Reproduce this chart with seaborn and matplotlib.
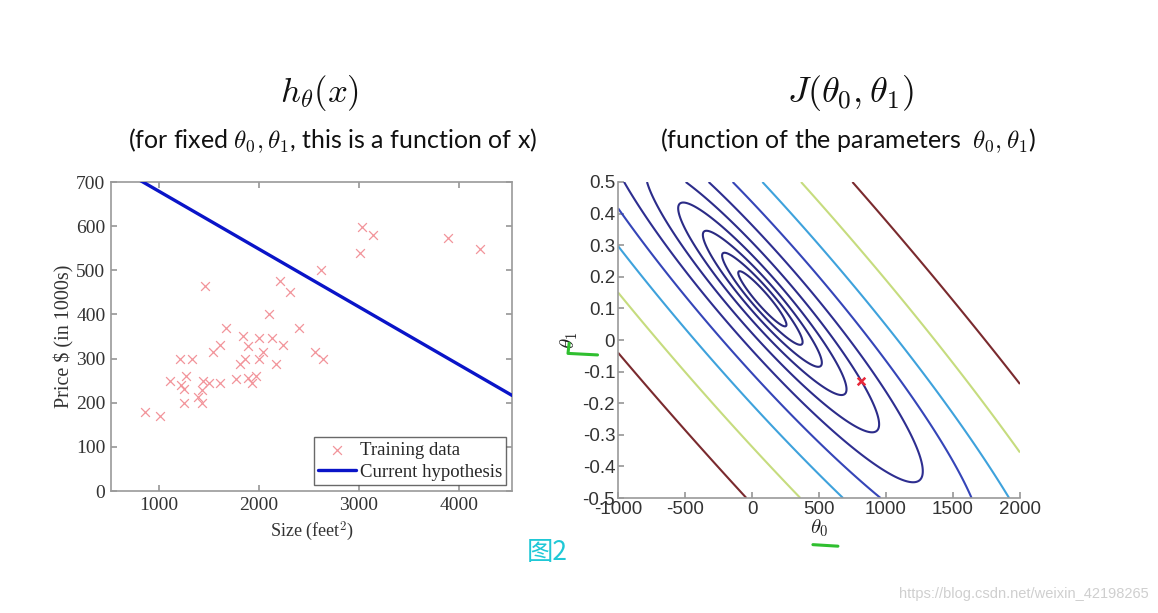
import numpy as np
import pandas as pd
import matplotlib
matplotlib.use("Agg")
import matplotlib.pyplot as plt
import seaborn as sns
from matplotlib.lines import Line2D

# ---------------- data ----------------
size_sqft = [860, 1007, 1106, 1205, 1222, 1245, 1245, 1271, 1328, 1387, 1427, 1437,
             1427, 1460, 1503, 1536, 1609, 1609, 1669, 1768, 1811, 1844, 1858, 1894,
             1894, 1934, 1967, 2000, 2000, 2043, 2099, 2132, 2166, 2205, 2242, 2305,
             2404, 2563, 2616, 2636, 3010, 3033, 3142, 3894, 4212]
price_k = [180, 170, 250, 300, 240, 232, 200, 260, 300, 213, 200, 250,
           228, 465, 244, 315, 331, 244, 369, 253, 287, 351, 298, 329,
           255, 244, 260, 347, 300, 315, 400, 346, 288, 476, 331, 450,
           370, 316, 500, 300, 540, 599, 581, 574, 549]

theta0_current = 810.0
theta1_current = -0.131

x_lim = [520, 4530]
y_lim = [0, 700]
x_ticks = [1000, 2000, 3000, 4000]
y_ticks = [0, 100, 200, 300, 400, 500, 600, 700]

t0_lim = [-1000, 2000]
t1_lim = [-0.5, 0.5]
t0_ticks = [-1000, -500, 0, 500, 1000, 1500, 2000]
t1_ticks = [-0.5, -0.4, -0.3, -0.2, -0.1, 0, 0.1, 0.2, 0.3, 0.4, 0.5]
t1_labels = ["-0.5", "-0.4", "-0.3", "-0.2", "-0.1", "0", "0.1", "0.2", "0.3", "0.4", "0.5"]

contour_levels = np.logspace(3.6, 6, 10)
contour_colors = ["#2a2a80", "#2a2a80", "#2a2a82", "#2b2b86", "#2c2c8a", "#2e2e90",
                  "#3545b8", "#3ea2dc", "#c6dc7e", "#7a2a2e"]

# ---------------- style ----------------
sns.set_theme(style="white")
plt.rcParams["font.family"] = ["DejaVu Sans"]
plt.rcParams["mathtext.fontset"] = "cm"
plt.rcParams["axes.unicode_minus"] = False

fig = plt.figure(figsize=(11.58, 6.13), dpi=100)
fig.patch.set_facecolor("white")

serif = "Liberation Serif"
sans = "Liberation Sans"
grey = "#9a9a9a"

# ---------------- left: hypothesis ----------------
ax1 = fig.add_axes([0.0959, 0.199, 0.3463, 0.504])
df = pd.DataFrame({"size": size_sqft, "price": price_k})
sns.scatterplot(data=df, x="size", y="price", ax=ax1, marker="x", color="#f2949a",
                s=40, linewidth=0.9, label="Training data", zorder=3)
line_x = np.array(x_lim, dtype=float)
line_df = pd.DataFrame({"x": line_x, "y": theta0_current + theta1_current * line_x})
sns.lineplot(data=line_df, x="x", y="y", ax=ax1, color="#0a14c8", linewidth=2.4,
             label="Current hypothesis", zorder=4)
ax1.set_xlim(x_lim)
ax1.set_ylim(y_lim)
ax1.set_xticks(x_ticks)
ax1.set_yticks(y_ticks)
ax1.set_xlabel("Size (feet$^2$)", fontfamily=serif, fontsize=13, color="#333333", labelpad=4)
ax1.set_ylabel("Price \\$ (in 1000s)", fontfamily=serif, fontsize=14.5, color="#333333", labelpad=1)
for lab in ax1.get_xticklabels() + ax1.get_yticklabels():
    lab.set_fontfamily(serif)
    lab.set_fontsize(14)
    lab.set_color("#333333")
ax1.tick_params(direction="in", length=4, color=grey, top=True, right=True, bottom=True, left=True, pad=4)
for sp in ax1.spines.values():
    sp.set_color(grey)
    sp.set_linewidth(1.2)
leg = ax1.legend(loc="lower right", prop={"family": serif, "size": 13.5}, frameon=True,
                 fancybox=False, edgecolor="#444444", borderpad=0.25, handlelength=2.0,
                 handletextpad=0.2, labelspacing=0.25, borderaxespad=0.3)
leg.get_frame().set_linewidth(1.0)

# ---------------- right: cost contour ----------------
ax2 = fig.add_axes([0.5337, 0.1876, 0.3471, 0.5155])
xs = np.asarray(size_sqft, dtype=float)
ys = np.asarray(price_k, dtype=float)
t0 = np.linspace(t0_lim[0], t0_lim[1], 400)
t1 = np.linspace(t1_lim[0], t1_lim[1], 400)
T0, T1 = np.meshgrid(t0, t1)
resid = T0[..., None] + T1[..., None] * xs[None, None, :] - ys[None, None, :]
J = (resid ** 2).sum(axis=-1) / (2 * len(xs))
ax2.contour(T0, T1, J, levels=contour_levels, colors=contour_colors, linewidths=1.5)
sns.scatterplot(x=[theta0_current], y=[theta1_current], ax=ax2, marker="x",
                color="#e8283a", s=30, linewidth=1.8, zorder=5, legend=False)
ax2.set_xlim(t0_lim)
ax2.set_ylim(t1_lim)
ax2.set_xticks(t0_ticks)
ax2.set_yticks(t1_ticks)
ax2.set_yticklabels(t1_labels)
for lab in ax2.get_xticklabels() + ax2.get_yticklabels():
    lab.set_fontfamily(sans)
    lab.set_fontsize(13.5)
    lab.set_color("#333333")
ax2.tick_params(direction="in", length=4, color=grey, bottom=True, left=True, pad=2)
for k in ["top", "right"]:
    ax2.spines[k].set_visible(False)
for k in ["left", "bottom"]:
    ax2.spines[k].set_color(grey)
    ax2.spines[k].set_linewidth(1.2)
ax2.set_xlabel(r"$\boldsymbol{\theta}_0$" if False else r"$\theta_0$", fontsize=15, color="#222222", labelpad=0)
ax2.set_ylabel(r"$\theta_1$", fontsize=15, color="#222222", labelpad=2)

# ---------------- titles ----------------
fig.text(0.2763, 0.848, r"$h_\theta(x)$", fontsize=25, ha="center", va="center", color="#111111")
fig.text(0.2876, 0.771, r"(for fixed $\theta_0,\theta_1$, this is a function of x)",
         fontsize=18, ha="center", va="center", color="#111111", fontfamily="Lato")
fig.text(0.7345, 0.848, r"$J(\theta_0,\theta_1)$", fontsize=26, ha="center", va="center", color="#111111")
fig.text(0.7323, 0.771, r"(function of the parameters $\;\theta_0,\theta_1$)",
         fontsize=18, ha="center", va="center", color="#111111", fontfamily="Lato")

# handwritten green marks
fig.add_artist(Line2D([0.7020, 0.7236], [0.1115, 0.1090], transform=fig.transFigure,
                      color="#2fbf2f", linewidth=2.2, solid_capstyle="round"))
fig.add_artist(Line2D([0.4915, 0.4905, 0.5160], [0.440, 0.4235, 0.4210], transform=fig.transFigure,
                      color="#2fbf2f", linewidth=2.2, solid_capstyle="round",
                      solid_joinstyle="round"))

fig.text(0.473, 0.098, "图2", fontsize=19, color="#1fc8d6", ha="center", va="center",
         fontfamily=["Noto Sans CJK SC", "DejaVu Sans"])
fig.text(0.992, 0.031, "https://blog.csdn.net/weixin_42198265", fontsize=10.5,
         color="#cfcfcf", ha="right", va="center", fontfamily="Liberation Sans")

fig.savefig("out.png", dpi=100, facecolor="white")
